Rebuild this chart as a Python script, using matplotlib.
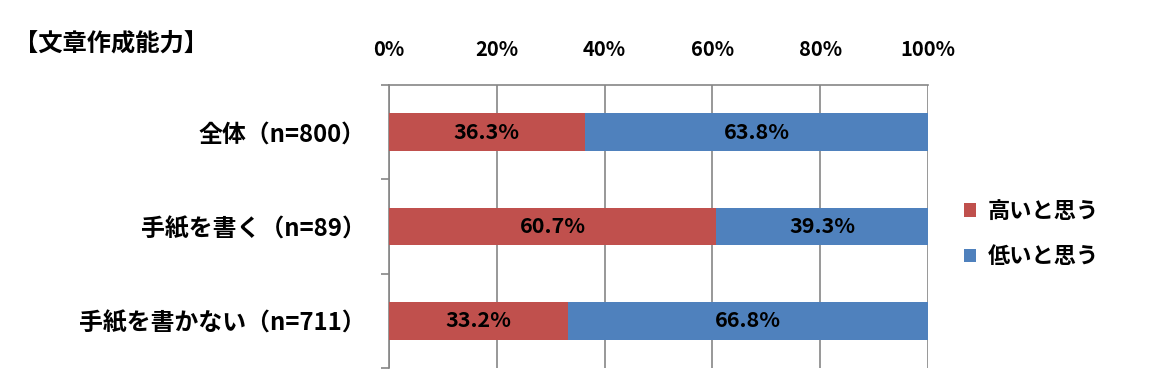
import numpy as np
import matplotlib
matplotlib.use("Agg")
import matplotlib.pyplot as plt
from matplotlib.ticker import FuncFormatter, FixedLocator

plt.rcParams['font.family'] = ['Noto Sans CJK JP', 'DejaVu Sans']
plt.rcParams['font.weight'] = 'bold'

categories = ["全体（n=800）", "手紙を書く（n=89）", "手紙を書かない（n=711）"]
high = [36.3, 60.7, 33.2]
low = [63.8, 39.3, 66.8]
series_names = ["高いと思う", "低いと思う"]
title = "【文章作成能力】"

red = "#C0504D"
blue = "#4F81BD"
grid_col = "#868686"

fig = plt.figure(figsize=(11.57, 3.90), dpi=100)
ax = fig.add_axes([389 / 1157, 22 / 390, 539 / 1157, 283 / 390])

y = np.arange(len(categories))
h = 0.4
ax.barh(y, high, height=h, color=red, label=series_names[0], zorder=3)
ax.barh(y, low, left=high, height=h, color=blue, label=series_names[1], zorder=3)

# data labels in the middle of each segment
for i in range(len(categories)):
    ax.text(high[i] / 2, y[i], f"{high[i]:.1f}%", ha="center", va="center",
            fontsize=15.5, zorder=4)
    ax.text(high[i] + low[i] / 2, y[i], f"{low[i]:.1f}%", ha="center", va="center",
            fontsize=15.5, zorder=4)

ax.set_xlim(0, 100)
ax.set_ylim(len(categories) - 0.5, -0.5)
ax.xaxis.tick_top()
ax.set_xticks(np.arange(0, 101, 20))
ax.xaxis.set_major_formatter(FuncFormatter(lambda v, p: f"{int(v)}%"))
ax.tick_params(axis="x", length=0, pad=18, labelsize=14.5)
ax.grid(axis="x", color=grid_col, linewidth=1.2, zorder=0)

# category labels without ticks, boundary ticks on the left
ax.set_yticks(y)
ax.set_yticklabels(categories, fontsize=17.2)
ax.tick_params(axis="y", length=0, pad=17)
ax.yaxis.set_minor_locator(FixedLocator(np.arange(-0.5, len(categories), 1.0)))
ax.tick_params(axis="y", which="minor", length=6, color=grid_col, width=1.2)

for s in ["right", "bottom"]:
    ax.spines[s].set_visible(False)
for s in ["left", "top"]:
    ax.spines[s].set_color(grid_col)
    ax.spines[s].set_linewidth(1.2)

fig.text(14 / 1157, 1 - 44 / 390, title, fontsize=17.5, va="center", ha="left")

leg = fig.legend(loc="center left", bbox_to_anchor=(944 / 1157, 1 - 234 / 390),
                 frameon=False, fontsize=16, handlelength=0.55, handleheight=0.55,
                 handletextpad=0.5, labelspacing=1.0)

fig.savefig("out.png", dpi=100)
